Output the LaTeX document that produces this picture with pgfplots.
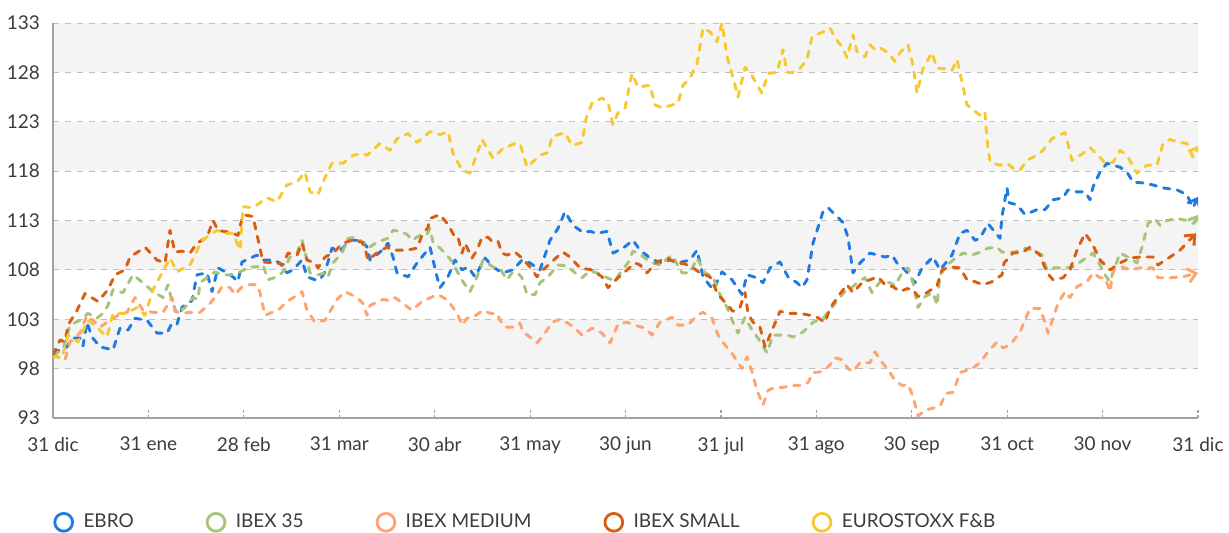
\documentclass[border=0pt]{standalone}
\usepackage{pgfplots}
\usepackage{pgfplotstable}
\usepackage{fontspec}
\setmainfont{Lato}
\pgfplotsset{compat=1.18}
\usetikzlibrary{arrows.meta}

\definecolor{ebro}{RGB}{31,122,226}
\definecolor{ibex}{RGB}{166,195,122}
\definecolor{ibexmed}{RGB}{255,163,112}
\definecolor{ibexsmall}{RGB}{219,93,18}
\definecolor{stoxx}{RGB}{246,201,48}
\definecolor{band}{RGB}{244,244,244}
\definecolor{gridc}{RGB}{190,190,190}
\definecolor{txt}{RGB}{60,60,60}

% t = position along the time axis (31 dic = 53 ... 31 dic = 1198), v = index (base 100)
\pgfplotstableread{
t v
53 99.6
67 100.2
72 101.1
80 101.1
83 100.3
87 102.7
92 101.2
100 100.2
113 99.9
120 102.1
128 101.9
135 103.1
147 102.9
157 101.6
167 101.6
172 102.6
177 102.5
182 104.2
192 104.9
197 107.5
207 107.7
212 105.8
218 108.2
227 107.7
233 107.3
238 106.8
242 108.8
257 109.5
263 109
273 109
280 108.7
287 107.7
293 108
302 109
307 107.3
315 107
320 107
325 107.8
332 110.2
340 109.9
350 111
362 111
367 110.3
370 109
380 109.8
388 110.7
393 109.3
397 107.7
408 107.3
417 108.7
430 110.3
437 107.3
440 106.2
448 107.3
455 109
462 108
468 108.3
475 107.3
485 109.2
493 108.3
502 107.7
513 108
522 109
530 108.7
540 108
550 111
558 112.2
565 113.9
573 112.5
583 111.8
590 111.9
597 111.7
607 111.9
613 109.7
623 110.2
633 111
640 110
650 109.2
660 108.7
670 109
678 108.7
690 109
697 110
703 107.3
713 106
722 107.8
732 107
742 105.5
747 107.5
757 107.2
763 106.7
770 108.2
780 108.8
788 107.3
797 106.7
802 106.2
807 107
813 110.7
823 113.9
828 114.3
837 113.4
843 112.8
848 111.3
853 107.7
860 108.7
870 109.7
878 109.5
885 109.3
892 109.5
897 108.7
905 108.0
915 106.7
922 108.2
933 109.3
940 108
952 109.5
960 111.7
967 112
975 111
980 111.2
988 112.7
995 111.8
1000 111.2
1002 113.4
1007 116.3
1009 114.8
1017 114.6
1025 113.6
1037 114.1
1045 114.1
1053 115.1
1063 115.3
1068 116.1
1077 115.9
1085 115.9
1090 115.1
1093 116.4
1100 117.9
1107 118.8
1113 118.6
1120 118.4
1127 117.9
1133 116.9
1143 116.8
1153 116.6
1163 116.3
1177 116.1
1187 115.6
1193 114.3
1198 115.4
}\ebrodata

\pgfplotstableread{
t v
53 99.4
63 99.9
70 102.4
80 102.9
88 103.6
97 103.1
103 103.6
108 104.4
113 106
123 105.7
133 107.5
143 106.7
153 105.8
163 105.2
168 106.5
172 104.8
177 103.6
185 104.2
193 105.2
198 105
200 106.7
208 107.3
215 107.8
222 107.5
230 107.5
240 107.8
250 108.3
257 108.3
263 108.5
268 107
277 107.3
283 107.8
290 109.3
297 109.7
302 111
307 109
310 107.7
318 107.5
325 107.7
328 107.3
333 108.7
342 109.7
348 111.2
355 111.3
363 110.8
368 110.2
377 110.8
388 111.2
393 112
400 111.9
407 111.6
412 111
420 111.5
427 111.6
430 112.2
433 110.8
440 110.2
447 109.5
453 108.7
458 107.7
463 106.8
470 105.8
477 107.3
483 109
493 108.3
500 108.1
507 107
512 107.7
517 107.8
522 107.2
527 105.5
535 105.5
540 106.7
548 107.3
558 108.5
567 108.4
575 107.7
582 107.2
590 107.9
600 107.6
607 107.2
615 106.9
622 108
628 108.7
633 109.9
640 109.6
650 108.8
660 108.5
672 109.5
682 107.7
690 107.7
697 109.2
705 107.7
713 107.3
720 105.5
727 104.2
733 102.7
738 101.6
745 103.2
752 101.9
758 101.1
767 99.6
773 101.4
787 101.4
793 101.2
803 101.7
813 102.7
823 103.1
830 103.9
837 104.9
845 105.8
852 106.2
858 106.8
865 107.2
872 105.7
880 106.8
890 106.7
895 106.4
902 107.7
908 108.2
913 106.7
918 104.2
925 105.3
933 105.7
937 104.4
940 107.5
947 108.5
957 109.3
963 109.7
972 109.5
980 109.8
988 110.2
997 110.3
1002 109.8
1015 109.8
1025 110.2
1033 110
1042 109.5
1047 108
1053 108.2
1063 108.2
1073 108.3
1083 109
1093 109.7
1100 108.5
1105 107.5
1110 106.8
1115 108.3
1120 109.7
1128 109.3
1137 108.7
1142 110.3
1148 112.7
1155 113.2
1160 112.5
1167 113
1177 113.2
1187 113
1194 112.7
1199 113.6
}\ibexdata

\pgfplotstableread{
t v
53 99.4
65 98.9
70 100.7
80 101.6
87 103.4
95 102.7
100 102.2
110 102.9
118 103.4
127 103.7
135 105.2
143 103.9
153 103.7
163 103.7
172 105.2
175 103.8
182 103.6
190 103.7
200 103.7
210 104.6
217 105.5
222 106.3
230 106.2
235 105.5
242 106.3
250 106.5
257 106.5
260 105.7
265 103.4
272 103.7
278 103.9
287 104.8
295 105.3
302 105.8
307 103.9
315 102.7
325 102.9
330 103.8
337 105
345 105.8
357 105.2
363 104.6
367 103.4
370 104.4
383 105
390 104.9
395 105.2
403 104.6
412 103.9
422 104.8
433 105.3
438 105.5
447 105
455 103.9
458 103.4
462 102.4
467 103.1
473 103.2
483 103.9
490 103.6
497 103.6
500 102.9
505 102.2
513 102.2
520 102.6
523 101.7
530 101.2
537 100.6
545 101.6
552 102.7
560 103
568 102.6
575 102.1
582 101.4
592 102.1
602 101.6
610 100.6
618 102.5
627 102.7
635 102.4
645 102.1
652 101.4
660 102.7
672 103.2
678 102.4
688 102.4
697 103.4
703 103.7
712 103.1
718 101.4
725 100.4
733 99.4
742 98
747 99.2
752 97.7
757 95.8
763 94.3
768 95.8
775 96.1
783 96.1
793 96.3
803 96.3
808 96.6
813 97.6
823 97.7
830 98.4
835 99.1
842 98.9
848 98
853 97.7
860 98.6
870 98.6
875 99.7
880 98.9
888 97.9
895 96.8
902 96.3
908 96.4
913 95.2
918 93.2
925 93.8
933 94
940 94.2
946 95.5
953 95.6
960 97.6
972 98
980 98.6
988 99.7
997 100.7
1003 100.1
1010 100.4
1020 101.7
1025 102.9
1030 104.1
1040 104.1
1045 102.7
1048 101.6
1053 103.1
1058 104.6
1065 105.8
1070 105.2
1077 106.3
1087 106.8
1093 107.7
1100 107.2
1105 107.2
1110 105.8
1113 108
1122 108.3
1130 108
1140 108.2
1153 108.2
1158 107.2
1170 107.2
1183 107.3
1198 107.7
}\ibexmeddata

\pgfplotstableread{
t v
53 99.4
60 100.9
65 100.7
68 102.4
77 103.9
85 105.6
90 105.3
98 104.8
108 106
115 107.5
125 108
130 109.3
145 110.3
157 109
165 108.7
170 112
175 109.8
182 109.9
190 109.7
197 110.7
207 111.3
213 113
218 112
230 111.8
238 111.5
243 113.6
253 113.4
263 108.8
277 108.7
283 108.5
288 109.7
297 109.5
302 110.7
307 109
315 108.7
318 108.2
325 109.3
333 109.7
343 110.7
352 111
362 110.8
365 110.2
368 109
378 109.8
387 110.3
392 110
407 110
417 110.2
422 111.5
428 112.3
430 113.2
440 113.6
448 112.6
455 111.3
458 111.3
462 109.7
465 110.7
472 109.2
477 110
482 111.3
488 111.3
493 110.8
498 110.9
502 109.7
507 109.5
515 109.8
522 109.2
530 108.3
537 107.3
543 108
557 109.3
563 109.8
570 109.3
580 108.2
592 108
602 107.3
608 106.2
617 107.1
627 108
635 108.7
640 108.5
647 107.7
657 108.8
667 109.2
677 108.7
685 108.6
693 108.2
700 107.7
710 107.3
718 105.5
727 104.5
733 103.8
740 104.2
745 105.7
748 103.6
753 102.7
760 102.2
765 100.2
768 100.9
775 102.6
780 103.8
790 103.6
800 103.6
810 103.4
817 103.2
825 102.7
830 104.1
838 105.3
847 106.5
853 105.7
862 106.7
870 107
878 107.3
885 106.5
893 106.3
900 105.8
907 106.1
913 106
918 105.3
927 105.7
937 106.4
942 108
950 108.3
960 108.2
967 107
975 106.8
983 106.5
992 106.8
1002 107.5
1004 108.7
1013 109.7
1023 109.8
1030 110.3
1040 109.5
1047 107.7
1053 107
1063 107.2
1070 108
1077 110
1085 111.7
1092 110.7
1100 109
1110 108
1120 108.7
1130 109.2
1140 109.3
1153 109.3
1158 108.5
1170 109.3
1180 110
1196 111.7
}\ibexsmalldata

\pgfplotstableread{
t v
53 99.2
62 99.1
68 101.4
78 100.7
88 102.9
100 101.9
107 101.2
113 103.6
127 103.6
137 104.2
145 103.4
153 106
170 109.2
177 107.8
190 108.5
202 111
217 112
223 111.7
233 111.7
240 110
243 114.4
253 114.3
267 115.3
277 114.9
287 116.6
297 116.9
305 117.9
310 115.9
318 115.6
323 116.9
332 118.8
343 118.8
353 119.6
363 119.8
367 119.6
380 120.8
390 120.1
397 121.3
408 121.8
417 120.9
430 122
440 121.7
448 122
453 119.8
462 118.1
470 117.8
482 121.2
493 119.3
503 120.3
515 120.8
520 120.8
527 118.4
540 119.6
548 119.9
552 121.5
565 121.9
572 120.6
582 120.9
586 123.3
592 124.9
602 125.4
608 125
613 122.7
618 123.9
625 124.4
632 127.9
638 126.5
650 126.7
655 124.7
662 124.4
672 124.7
678 124.9
683 126.7
690 127.4
697 128.9
703 132.5
710 132.1
717 131.1
722 133
727 129.6
733 127.5
738 125.5
745 128.5
752 127.7
757 126.7
762 125.9
768 127.9
777 128
783 130.3
787 128
793 128
800 128.4
807 129.3
812 131.6
823 132.1
830 132.5
835 131.5
842 130.6
847 129.5
853 131.8
857 130.1
865 129.6
870 130.8
875 130.3
880 130.5
888 130
895 129.1
900 130
908 130.8
913 128.7
917 125.9
923 128.4
932 130
937 128.4
943 128.4
952 128.2
957 129.3
967 124.7
982 123.5
985 123.9
987 121.2
990 118.9
1000 118.6
1007 118.8
1013 118.3
1020 118.1
1027 119.1
1033 119.4
1043 120.1
1052 121.3
1065 121.9
1072 119.1
1083 119.8
1090 120.4
1100 119.4
1105 118.8
1113 118.9
1120 120.1
1127 119.6
1137 117.8
1147 118.6
1157 118.6
1163 120.8
1170 121.2
1180 120.9
1187 120.8
1193 119.4
1199 120.6
}\stoxxdata

\begin{document}
\begin{tikzpicture}
\begin{axis}[
 set layers,
 scale only axis, width=572.5pt, height=197.5pt,
 at={(0,0)}, anchor=south west,
 xmin=53, xmax=1198, ymin=93, ymax=133,
 xtick={53,148.4,243.8,339.3,434.7,530.1,625.5,720.9,816.3,911.8,1007.2,1102.6,1198},
 xticklabels={31 dic,31 ene,28 feb,31 mar,30 abr,31 may,30 jun,31 jul,31 ago,30 sep,31 oct,30 nov,31 dic},
 ytick={93,98,...,133},
 axis x line*=bottom, axis y line*=left,
 axis line style={gridc!85!black, line width=0.8pt, -},
 ymajorgrids, grid style={gridc, dashed, line width=0.5pt},
 tick align=inside, major tick length=5pt,
 xtick style={gridc!85!black, line width=0.6pt, dash pattern=on 1.5pt off 1pt},
 ytick style={draw=none},
 tick label style={font=\fontsize{9.5}{11}\selectfont, text=txt},
 /pgf/number format/assume math mode=true,
 yticklabel style={xshift=-3pt},
 xticklabel style={yshift=-6pt},
 every axis plot/.append style={line width=1.45pt, line cap=round, dash pattern=on 3.2pt off 3.7pt, line join=round},
 legend style={at={(rel axis cs:0,-0.264)}, xshift=-3pt, anchor=west, draw=none, fill=none,
   legend columns=5, font=\fontsize{9.5}{11}\selectfont, text=txt,
   /tikz/every even column/.append style={column sep=34pt}},
 legend image code/.code={\draw[#1, solid, -, line width=1.4pt, fill=none] (3pt,0pt) circle (4.45pt);
   \path[draw=none, -] (10.9pt,0pt);},
]
\begin{pgfonlayer}{axis background}
\fill[band] (axis cs:53,98) rectangle (axis cs:1198,103);
\fill[band] (axis cs:53,108) rectangle (axis cs:1198,113);
\fill[band] (axis cs:53,118) rectangle (axis cs:1198,123);
\fill[band] (axis cs:53,128) rectangle (axis cs:1198,133);
\end{pgfonlayer}
\addplot[ebro, no markers, -{Straight Barb[length=4pt,width=7pt]}] table[x=t,y=v] {\ebrodata};
\addlegendentry{EBRO}
\addplot[ibex, no markers, -{Straight Barb[length=4pt,width=7pt]}] table[x=t,y=v] {\ibexdata};
\addlegendentry{IBEX 35}
\addplot[ibexmed, no markers, -{Straight Barb[length=4pt,width=7pt]}] table[x=t,y=v] {\ibexmeddata};
\addlegendentry{IBEX MEDIUM}
\addplot[ibexsmall, no markers, -{Straight Barb[length=4pt,width=7pt]}] table[x=t,y=v] {\ibexsmalldata};
\addlegendentry{IBEX SMALL}
\addplot[stoxx, no markers, -{Straight Barb[length=4pt,width=7pt]}] table[x=t,y=v] {\stoxxdata};
\addlegendentry{EUROSTOXX F\&B}
\end{axis}
\pgfresetboundingbox
\useasboundingbox (-26.5pt,-57pt) rectangle (588pt,209pt);
\end{tikzpicture}
\end{document}
